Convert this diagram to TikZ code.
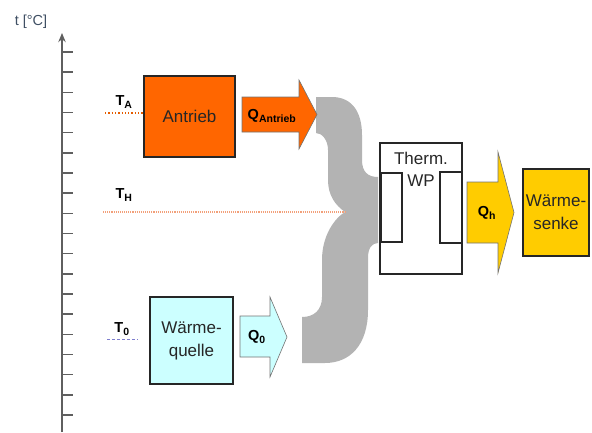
\documentclass[tikz,border=0pt]{standalone}
\usepackage{fontspec}
\setmainfont{Liberation Sans}
\usepackage{xcolor}
\usepackage{tikz}
\usetikzlibrary{arrows.meta}

\definecolor{antriebcol}{HTML}{FF6600}
\definecolor{quellecol}{HTML}{CCFFFF}
\definecolor{senkecol}{HTML}{FFCC00}
\definecolor{bracecol}{HTML}{B3B3B3}
\definecolor{axiscol}{HTML}{5F5F5F}
\definecolor{unitcol}{HTML}{3F4F63}
\definecolor{hlinecol}{HTML}{F2A07A}

\begin{document}
\begin{tikzpicture}[x=1pt,y=-1pt,>={Stealth[length=3.2mm,width=2.6mm]},
  box/.style={draw=black!85,line width=1.1pt,inner sep=0pt,font=\fontsize{17}{23}\selectfont,text=black!85,align=center},
  blockarrow/.style={draw=black!55,line width=0.6pt},
  qlbl/.style={font=\bfseries\fontsize{14.5}{16}\selectfont,inner sep=0pt},
  tlbl/.style={font=\bfseries\fontsize{14.5}{16}\selectfont,inner sep=0pt}]
  \useasboundingbox (0,0) rectangle (592,432);
  % temperature axis
  \coordinate (axbot) at (62,432);
  \coordinate (axtop) at (62,33);
  \draw[->,axiscol,line width=1.5pt] (axbot) -- (axtop);
  \foreach \k in {0,...,18}
    \draw[axiscol,line width=1.5pt] (62,52+20.17*\k) -- ++(11,0);
  \node[font=\fontsize{14.5}{16}\selectfont,text=unitcol,inner sep=0pt] (unit) at (31,22) {t [°C]};
  % brace
  \fill[bracecol] (316,97) -- (332,97) .. controls (352,97) and (362,112) .. (362,135)
    -- (362,160) .. controls (362,172) and (368,177) .. (378,177) -- (378,243)
    .. controls (372,243) and (368,248) .. (368,258) -- (368,310)
    .. controls (368,345) and (350,363) .. (325,363) -- (302,363) -- (302,317)
    .. controls (314,317) and (322,310) .. (322,297) -- (322,260)
    .. controls (322,235) and (335,218) .. (345,212)
    .. controls (335,205) and (328,195) .. (328,180) -- (328,150)
    .. controls (328,140) and (322,133) .. (316,133) -- cycle;
  % boxes
  \node[box,fill=antriebcol,minimum width=91pt,minimum height=81pt] (antrieb) at (189.5,116.5) {Antrieb};
  \node[box,fill=quellecol,minimum width=83pt,minimum height=87pt] (quelle) at (191.5,340.5) {Wärme-\\quelle};
  \node[box,fill=senkecol,minimum width=66pt,minimum height=87pt] (senke) at (556,212.5) {Wärme-\\senke};
  \node[box,fill=white,minimum width=82pt,minimum height=131pt] (wp) at (421,208.5) {};
  \draw[black!85,line width=1.1pt] (381,173) rectangle (402,242);
  \draw[black!85,line width=1.1pt] (440,172) rectangle (462,243);
  \node[font=\fontsize{17}{22}\selectfont,text=black!85,align=center,inner sep=0pt] (wplbl) at (421,169) {Therm.\\WP};
  % block arrows
  \filldraw[blockarrow,fill=antriebcol] (242,97) -- (299,97) -- (299,80) -- (317,114.5) -- (299,149) -- (299,132) -- (242,132) -- cycle;
  \node[qlbl] (qa) at (272,116) {Q\textsubscript{\fontsize{10.5}{11}\selectfont Antrieb}};
  \filldraw[blockarrow,fill=quellecol] (240,316) -- (270,316) -- (270,297) -- (287,337) -- (270,377) -- (270,357) -- (240,357) -- cycle;
  \node[qlbl] (q0) at (257,337) {Q\textsubscript{\fontsize{10.5}{11}\selectfont 0}};
  \filldraw[blockarrow,fill=senkecol] (467,182) -- (498,182) -- (498,152) -- (514,212.5) -- (498,273) -- (498,243) -- (467,243) -- cycle;
  \node[qlbl] (qh) at (487,213) {Q\textsubscript{\fontsize{10.5}{11}\selectfont h}};
  % temperature levels
  \node[tlbl] (ta) at (124,102) {T\textsubscript{\fontsize{10.5}{11}\selectfont A}};
  \node[tlbl] (th) at (124,195) {T\textsubscript{\fontsize{10.5}{11}\selectfont H}};
  \node[tlbl] (t0) at (122,329) {T\textsubscript{\fontsize{10.5}{11}\selectfont 0}};
  \coordinate (taL) at (105,113);
  \coordinate (thL) at (103,212);
  \coordinate (thR) at (345,212);
  \coordinate (t0L) at (107,339);
  \coordinate (t0R) at (138,339);
  \draw[antriebcol!90!black,dotted,line width=1.3pt] (taL) -- (taL -| antrieb.west);
  \draw[hlinecol,densely dotted,line width=1.1pt] (thL) -- (thR);
  \draw[blue!45!gray!70,densely dashed,line width=0.9pt] (t0L) -- (t0R);
\end{tikzpicture}
\end{document}
